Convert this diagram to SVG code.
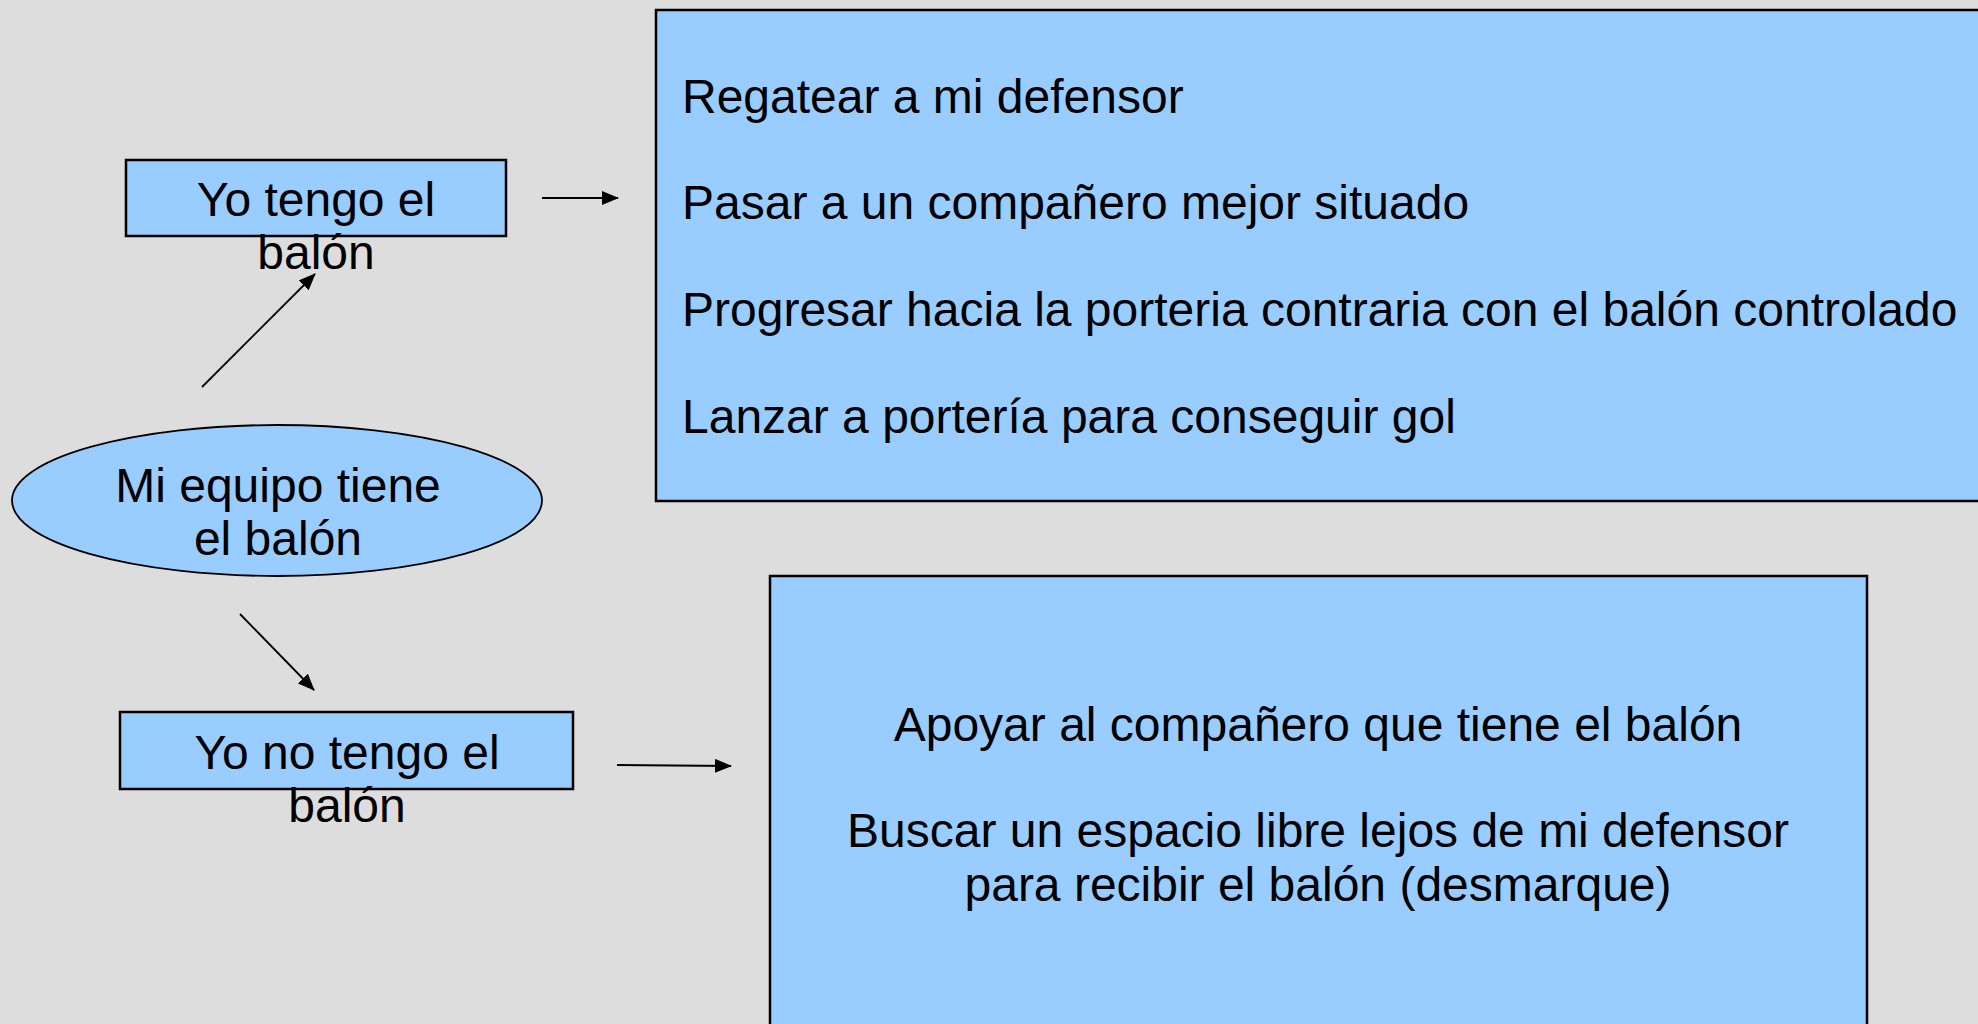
<svg xmlns="http://www.w3.org/2000/svg" width="1978" height="1024" viewBox="0 0 1978 1024">
<style>
.bg{fill:#dddddd}
.shape{fill:#99ccff;stroke:#000;stroke-width:2.5}
.t{font-family:"Liberation Sans",Arial,sans-serif;font-size:48px;fill:#000}
.c{text-anchor:middle}
.conn{stroke:#000;stroke-width:1.8;fill:none;marker-end:url(#ah)}
</style>
<defs>
<marker id="ah" markerUnits="userSpaceOnUse" markerWidth="18" markerHeight="14" refX="16" refY="7" orient="auto">
<path d="M0,0 L17,7 L0,14 Z" fill="#000"/>
</marker>
</defs>
<rect class="bg" x="0" y="0" width="1978" height="1024"/>
<g id="node-acciones-con-balon">
<rect class="shape" x="656" y="10" width="1340" height="491"/>
<text class="t" x="682" y="113">Regatear a mi defensor</text>
<text class="t" x="682" y="219">Pasar a un compañero mejor situado</text>
<text class="t" x="682" y="326">Progresar hacia la porteria contraria con el balón controlado</text>
<text class="t" x="682" y="433">Lanzar a portería para conseguir gol</text>
</g>
<g id="node-acciones-sin-balon">
<rect class="shape" x="770" y="576" width="1097" height="470"/>
<text class="t c" x="1318" y="741">Apoyar al compañero que tiene el balón</text>
<text class="t c" x="1318" y="847">Buscar un espacio libre lejos de mi defensor</text>
<text class="t c" x="1318" y="901">para recibir el balón (desmarque)</text>
</g>
<g id="node-yo-tengo">
<rect class="shape" x="126" y="160" width="380" height="76"/>
<text class="t c" x="316" y="216">Yo tengo el</text>
<text class="t c" x="316" y="269">balón</text>
</g>
<g id="node-equipo">
<ellipse class="shape" cx="277" cy="500.5" rx="265" ry="75.5" style="stroke-width:1.8"/>
<text class="t c" x="278" y="502">Mi equipo tiene</text>
<text class="t c" x="278" y="555">el balón</text>
</g>
<g id="node-yo-no-tengo">
<rect class="shape" x="120" y="712" width="453" height="77"/>
<text class="t c" x="347" y="769">Yo no tengo el</text>
<text class="t c" x="347" y="822">balón</text>
</g>
<g id="connectors">
<line class="conn" x1="202" y1="387" x2="315" y2="274"/>
<line class="conn" x1="240" y1="614" x2="314" y2="690"/>
<line class="conn" x1="542" y1="198" x2="618" y2="198"/>
<line class="conn" x1="617" y1="765" x2="731" y2="766"/>
</g>
</svg>
